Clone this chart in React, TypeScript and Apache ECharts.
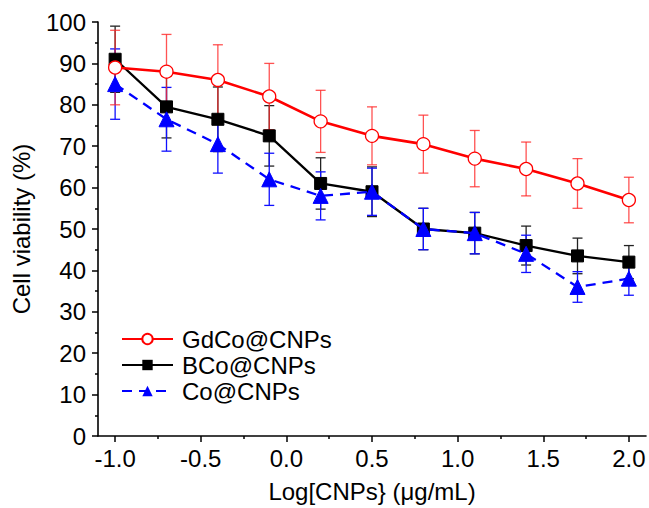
import React, { useEffect, useRef } from "react";
import * as echarts from "echarts";

const logConc = [-1.0, -0.7, -0.4, -0.1, 0.2, 0.5, 0.8, 1.1, 1.4, 1.7, 2.0];
const gdcoMean = [89, 88, 86, 82, 76, 72.5, 70.5, 67, 64.5, 61, 57];
const gdcoErr = [9, 9, 8.5, 8, 7.5, 7, 7, 6.8, 6.5, 6, 5.5];
const bcoMean = [91, 79.5, 76.5, 72.5, 61, 59, 50, 49, 46, 43.5, 42];
const bcoErr = [8, 7.5, 7.8, 7.3, 6.2, 6, 5, 5, 4.7, 4.3, 4];
const coMean = [85, 76.5, 70.5, 62, 58, 59, 50, 49, 44, 36, 38];
const coErr = [8.5, 7.7, 7, 6.3, 5.8, 5.7, 5, 5, 4.5, 3.7, 4];
const xMajorTicks = [-1.0, -0.5, 0.0, 0.5, 1.0, 1.5, 2.0];
const xMinorTicks = [-0.75, -0.25, 0.25, 0.75, 1.25, 1.75];

const FONT = "Liberation Sans, Arial, sans-serif";
const FS = 24;

function pairs(ys: number[]) {
  return logConc.map((x, i) => [x, ys[i]]);
}
function errTriples(ys: number[], es: number[]) {
  return logConc.map((x, i) => [x, ys[i], es[i]]);
}

function errorSeries(name: string, ys: number[], es: number[], color: string) {
  return {
    type: "custom",
    name: name + "-err",
    data: errTriples(ys, es),
    z: 1,
    silent: true,
    renderItem: (params: any, api: any) => {
      const x = api.value(0);
      const y = api.value(1);
      const e = api.value(2);
      const top = api.coord([x, y + e]);
      const bot = api.coord([x, y - e]);
      const half = 5;
      const style = { stroke: color, lineWidth: 1.3 };
      return {
        type: "group",
        children: [
          { type: "line", shape: { x1: top[0], y1: top[1], x2: bot[0], y2: bot[1] }, style },
          { type: "line", shape: { x1: top[0] - half, y1: top[1], x2: top[0] + half, y2: top[1] }, style },
          { type: "line", shape: { x1: bot[0] - half, y1: bot[1], x2: bot[0] + half, y2: bot[1] }, style },
        ],
      };
    },
  };
}

export default function App() {
  const ref = useRef<HTMLDivElement>(null);
  useEffect(() => {
    if (!ref.current) return;
    const chart = echarts.init(ref.current, null, { renderer: "svg" });
    chart.setOption({
      animation: false,
      backgroundColor: "#fff",
      textStyle: { fontFamily: FONT },
      grid: { left: 98, right: 3, top: 22, bottom: 70, containLabel: false },
      legend: {
        data: ["GdCo@CNPs", "BCo@CNPs", "Co@CNPs"],
        orient: "vertical",
        left: 121,
        top: 327,
        padding: 0,
        itemWidth: 51,
        itemHeight: 13,
        itemGap: 2,
        textStyle: { fontFamily: FONT, fontSize: FS, color: "#000", padding: [0, 0, 0, 4] },
      },
      xAxis: [
        {
          type: "value",
          min: -1.1,
          max: 2.1,
          axisLine: { show: true, onZero: false, lineStyle: { color: "#000", width: 1.6 } },
          splitLine: { show: false },
          axisTick: { show: true, inside: false, length: 6, customValues: xMajorTicks, lineStyle: { color: "#000", width: 1.5 } },
          axisLabel: {
            customValues: xMajorTicks,
            formatter: (v: number) => v.toFixed(1),
            fontFamily: FONT,
            fontSize: FS,
            color: "#000",
            margin: 10,
          },
          name: "Log[CNPs} (μg/mL)",
          nameLocation: "middle",
          nameGap: 43,
          nameTextStyle: { fontFamily: FONT, fontSize: FS, color: "#000" },
        },
        {
          type: "value",
          min: -1.1,
          max: 2.1,
          position: "bottom",
          axisLine: { show: false, onZero: false },
          splitLine: { show: false },
          axisTick: { show: true, inside: false, length: 3, customValues: xMinorTicks, lineStyle: { color: "#000", width: 1.5 } },
          axisLabel: { show: false },
        },
      ],
      yAxis: {
        type: "value",
        min: 0,
        max: 100,
        interval: 10,
        axisLine: { show: true, onZero: false, lineStyle: { color: "#000", width: 1.6 } },
        splitLine: { show: false },
        axisTick: { show: true, inside: false, length: 6, lineStyle: { color: "#000", width: 1.5 } },
        minorTick: { show: true, splitNumber: 2, length: 3, lineStyle: { color: "#000", width: 1.5 } },
        axisLabel: { fontFamily: FONT, fontSize: FS, color: "#000", margin: 12 },
        name: "Cell viability (%)",
        nameLocation: "middle",
        nameGap: 65,
        nameTextStyle: { fontFamily: FONT, fontSize: FS, color: "#000" },
      },
      series: [
        errorSeries("BCo", bcoMean, bcoErr, "#222222"),
        errorSeries("Co", coMean, coErr, "#1010ff"),
        errorSeries("GdCo", gdcoMean, gdcoErr, "rgba(255,40,40,0.8)"),
        {
          type: "line",
          name: "BCo@CNPs",
          data: pairs(bcoMean),
          z: 3,
          symbol: "rect",
          symbolSize: 12,
          itemStyle: { color: "#000", borderColor: "#000" },
          lineStyle: { color: "#000", width: 2.3 },
        },
        {
          type: "line",
          name: "Co@CNPs",
          data: pairs(coMean),
          z: 4,
          symbol: "triangle",
          symbolSize: 15,
          itemStyle: { color: "#0000ff", borderColor: "#0000ff" },
          lineStyle: { color: "#0000ff", width: 2.3, type: [10, 7] },
        },
        {
          type: "line",
          name: "GdCo@CNPs",
          data: pairs(gdcoMean),
          z: 5,
          symbol: "circle",
          symbolSize: 13,
          itemStyle: { color: "#fff", borderColor: "#ff0000", borderWidth: 1.3 },
          lineStyle: { color: "#ff0000", width: 2.6 },
        },
      ],
    });
    return () => chart.dispose();
  }, []);
  return <div ref={ref} style={{ position: "fixed", left: 0, top: 0, width: 649, height: 508 }} />;
}
